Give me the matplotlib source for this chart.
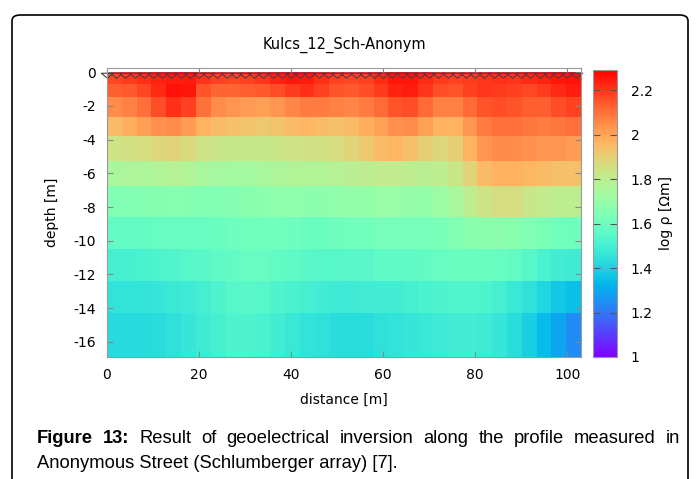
import numpy as np
import matplotlib.pyplot as plt
from matplotlib.patches import FancyBboxPatch

plt.rcParams['axes.unicode_minus'] = False

# layer boundaries (depth, m) and column edges (distance, m)
depth_edges = [0, 0.7, 1.5, 2.65, 3.8, 5.25, 6.75, 8.6, 10.5, 12.4, 14.3, 16.9]
dist_edges = np.linspace(0, 103, 33)
electrodes = np.arange(0, 104, 2)

# log resistivity per layer (top -> bottom), 32 columns each
layer0 = [2.17, 2.19, 2.21, 2.23, 2.24, 2.24, 2.20, 2.18, 2.17, 2.18, 2.20, 2.23, 2.25, 2.24, 2.21, 2.18,
          2.17, 2.18, 2.22, 2.25, 2.25, 2.22, 2.19, 2.18, 2.19, 2.20, 2.21, 2.20, 2.22, 2.23, 2.25, 2.26]
layer1 = [2.13, 2.14, 2.17, 2.22, 2.26, 2.25, 2.15, 2.12, 2.12, 2.13, 2.14, 2.16, 2.19, 2.21, 2.18, 2.15,
          2.14, 2.16, 2.19, 2.23, 2.24, 2.20, 2.16, 2.15, 2.18, 2.20, 2.19, 2.18, 2.17, 2.19, 2.22, 2.24]
layer2 = [2.05, 2.07, 2.10, 2.16, 2.21, 2.18, 2.10, 2.05, 2.03, 2.02, 2.01, 2.03, 2.06, 2.08, 2.08, 2.07,
          2.06, 2.08, 2.11, 2.15, 2.16, 2.11, 2.07, 2.07, 2.11, 2.15, 2.16, 2.15, 2.13, 2.13, 2.16, 2.18]
layer3 = [1.95, 1.98, 2.01, 2.04, 2.05, 2.02, 1.97, 1.95, 1.94, 1.93, 1.92, 1.93, 1.95, 1.96, 1.95, 1.94,
          1.95, 1.98, 2.01, 2.04, 2.05, 2.01, 1.97, 1.97, 2.03, 2.08, 2.10, 2.10, 2.09, 2.08, 2.09, 2.10]
layer4 = [1.84, 1.85, 1.86, 1.88, 1.89, 1.87, 1.84, 1.83, 1.82, 1.82, 1.82, 1.83, 1.84, 1.85, 1.85, 1.86,
          1.89, 1.92, 1.95, 1.96, 1.94, 1.90, 1.88, 1.90, 1.97, 2.03, 2.05, 2.05, 2.04, 2.03, 2.03, 2.02]
layer5 = [1.75, 1.76, 1.76, 1.77, 1.78, 1.77, 1.75, 1.74, 1.74, 1.74, 1.75, 1.76, 1.77, 1.77, 1.77, 1.78,
          1.79, 1.80, 1.81, 1.81, 1.80, 1.79, 1.80, 1.83, 1.89, 1.95, 1.97, 1.97, 1.96, 1.95, 1.94, 1.94]
layer6 = [1.65, 1.65, 1.66, 1.66, 1.67, 1.66, 1.65, 1.65, 1.66, 1.67, 1.68, 1.69, 1.69, 1.68, 1.68, 1.69,
          1.70, 1.70, 1.71, 1.71, 1.70, 1.70, 1.72, 1.75, 1.80, 1.84, 1.86, 1.86, 1.83, 1.81, 1.80, 1.80]
layer7 = [1.57, 1.57, 1.57, 1.58, 1.58, 1.58, 1.58, 1.59, 1.60, 1.61, 1.61, 1.61, 1.60, 1.59, 1.59, 1.60,
          1.61, 1.61, 1.62, 1.62, 1.62, 1.62, 1.63, 1.65, 1.67, 1.68, 1.68, 1.67, 1.65, 1.63, 1.61, 1.60]
layer8 = [1.50, 1.50, 1.51, 1.52, 1.53, 1.54, 1.55, 1.56, 1.57, 1.58, 1.58, 1.57, 1.56, 1.55, 1.54, 1.54,
          1.55, 1.55, 1.56, 1.56, 1.56, 1.57, 1.58, 1.59, 1.59, 1.59, 1.58, 1.57, 1.54, 1.51, 1.49, 1.48]
layer9 = [1.45, 1.45, 1.45, 1.46, 1.47, 1.48, 1.50, 1.52, 1.54, 1.55, 1.54, 1.52, 1.51, 1.50, 1.49, 1.48,
          1.48, 1.49, 1.49, 1.49, 1.50, 1.51, 1.52, 1.53, 1.53, 1.52, 1.50, 1.47, 1.44, 1.41, 1.37, 1.35]
layer10 = [1.42, 1.42, 1.42, 1.43, 1.44, 1.46, 1.48, 1.50, 1.52, 1.52, 1.51, 1.49, 1.47, 1.45, 1.44, 1.43,
           1.43, 1.43, 1.44, 1.45, 1.46, 1.47, 1.48, 1.49, 1.49, 1.48, 1.46, 1.43, 1.39, 1.34, 1.29, 1.24]

logrho = np.array([layer0, layer1, layer2, layer3, layer4, layer5,
                   layer6, layer7, layer8, layer9, layer10])

W, H = 697, 479
fig = plt.figure(figsize=(W / 100, H / 100), dpi=100)

# rounded frame around the figure
frame = FancyBboxPatch((12 / W, -0.05), 676 / W, 1 - 15 / H + 0.05,
                       boxstyle="round,pad=0,rounding_size=0.012",
                       transform=fig.transFigure, fc='none', ec='black', lw=1.2,
                       zorder=-1)
fig.patches.append(frame)

ax = fig.add_axes([107 / W, 1 - 357 / H, (581 - 107) / W, (357 - 68) / H])
mesh = ax.pcolormesh(dist_edges, -np.array(depth_edges), logrho,
                     cmap='rainbow', vmin=1.0, vmax=2.29, shading='flat')
# electrodes: wide, flat downward triangles
tri = [(-1, 0.2), (1, 0.2), (0, -0.6), (-1, 0.2)]
ax.plot(electrodes, np.full(len(electrodes), -0.12), linestyle='none', marker=tri,
        ms=9, mfc='none', mec='#444444', mew=0.8, clip_on=False)
ax.set_xlim(0, 103)
ax.set_ylim(-16.9, 0.25)
ax.set_xticks([0, 20, 40, 60, 80, 100])
ax.set_yticks(np.arange(0, -17, -2))
ax.tick_params(direction='in', length=4, color='#888888', labelsize=10,
               top=True, right=True, pad=8)
for s in ax.spines.values():
    s.set_color('#999999')
    s.set_linewidth(0.8)
ax.set_xlabel('distance [m]', fontsize=10, labelpad=8)
ax.set_ylabel('depth [m]', fontsize=10, labelpad=10)
ax.set_title('Kulcs_12_Sch-Anonym', fontsize=10.5, pad=14)

cax = fig.add_axes([593 / W, 1 - 357 / H, 24 / W, (357 - 70) / H])
cb = fig.colorbar(mesh, cax=cax)
cb.set_ticks([1, 1.2, 1.4, 1.6, 1.8, 2, 2.2])
cb.set_ticklabels(['1', '1.2', '1.4', '1.6', '1.8', '2', '2.2'])
cax.tick_params(direction='in', length=5, color='#555555', labelsize=10,
                left=True, right=True, pad=10)
cb.outline.set_edgecolor('#999999')
cb.outline.set_linewidth(0.8)
cb.set_label('log ρ [Ωm]', fontsize=10, labelpad=4)

# caption, first line justified
cap_font = ['Liberation Sans Narrow', 'Liberation Sans', 'DejaVu Sans']
cap_size = 13.2
x0, x1 = 37, 680
words = ['Figure', '13:', 'Result', 'of', 'geoelectrical', 'inversion', 'along',
         'the', 'profile', 'measured', 'in']
renderer = fig.canvas.get_renderer()
texts = []
for i, w in enumerate(words):
    t = fig.text(0, 1 - 443 / H, w, fontsize=cap_size, family=cap_font,
                 fontweight='bold' if i < 2 else 'normal', va='baseline', ha='left')
    texts.append(t)
widths = [t.get_window_extent(renderer).width for t in texts]
gap = (x1 - x0 - sum(widths)) / (len(words) - 1)
xpos = x0
for t, wd in zip(texts, widths):
    t.set_x(xpos / W)
    xpos += wd + gap
fig.text(x0 / W, 1 - 468 / H, 'Anonymous Street (Schlumberger array) [7].',
         fontsize=cap_size, family=cap_font, va='baseline', ha='left')

fig.savefig('out.png', dpi=100)
